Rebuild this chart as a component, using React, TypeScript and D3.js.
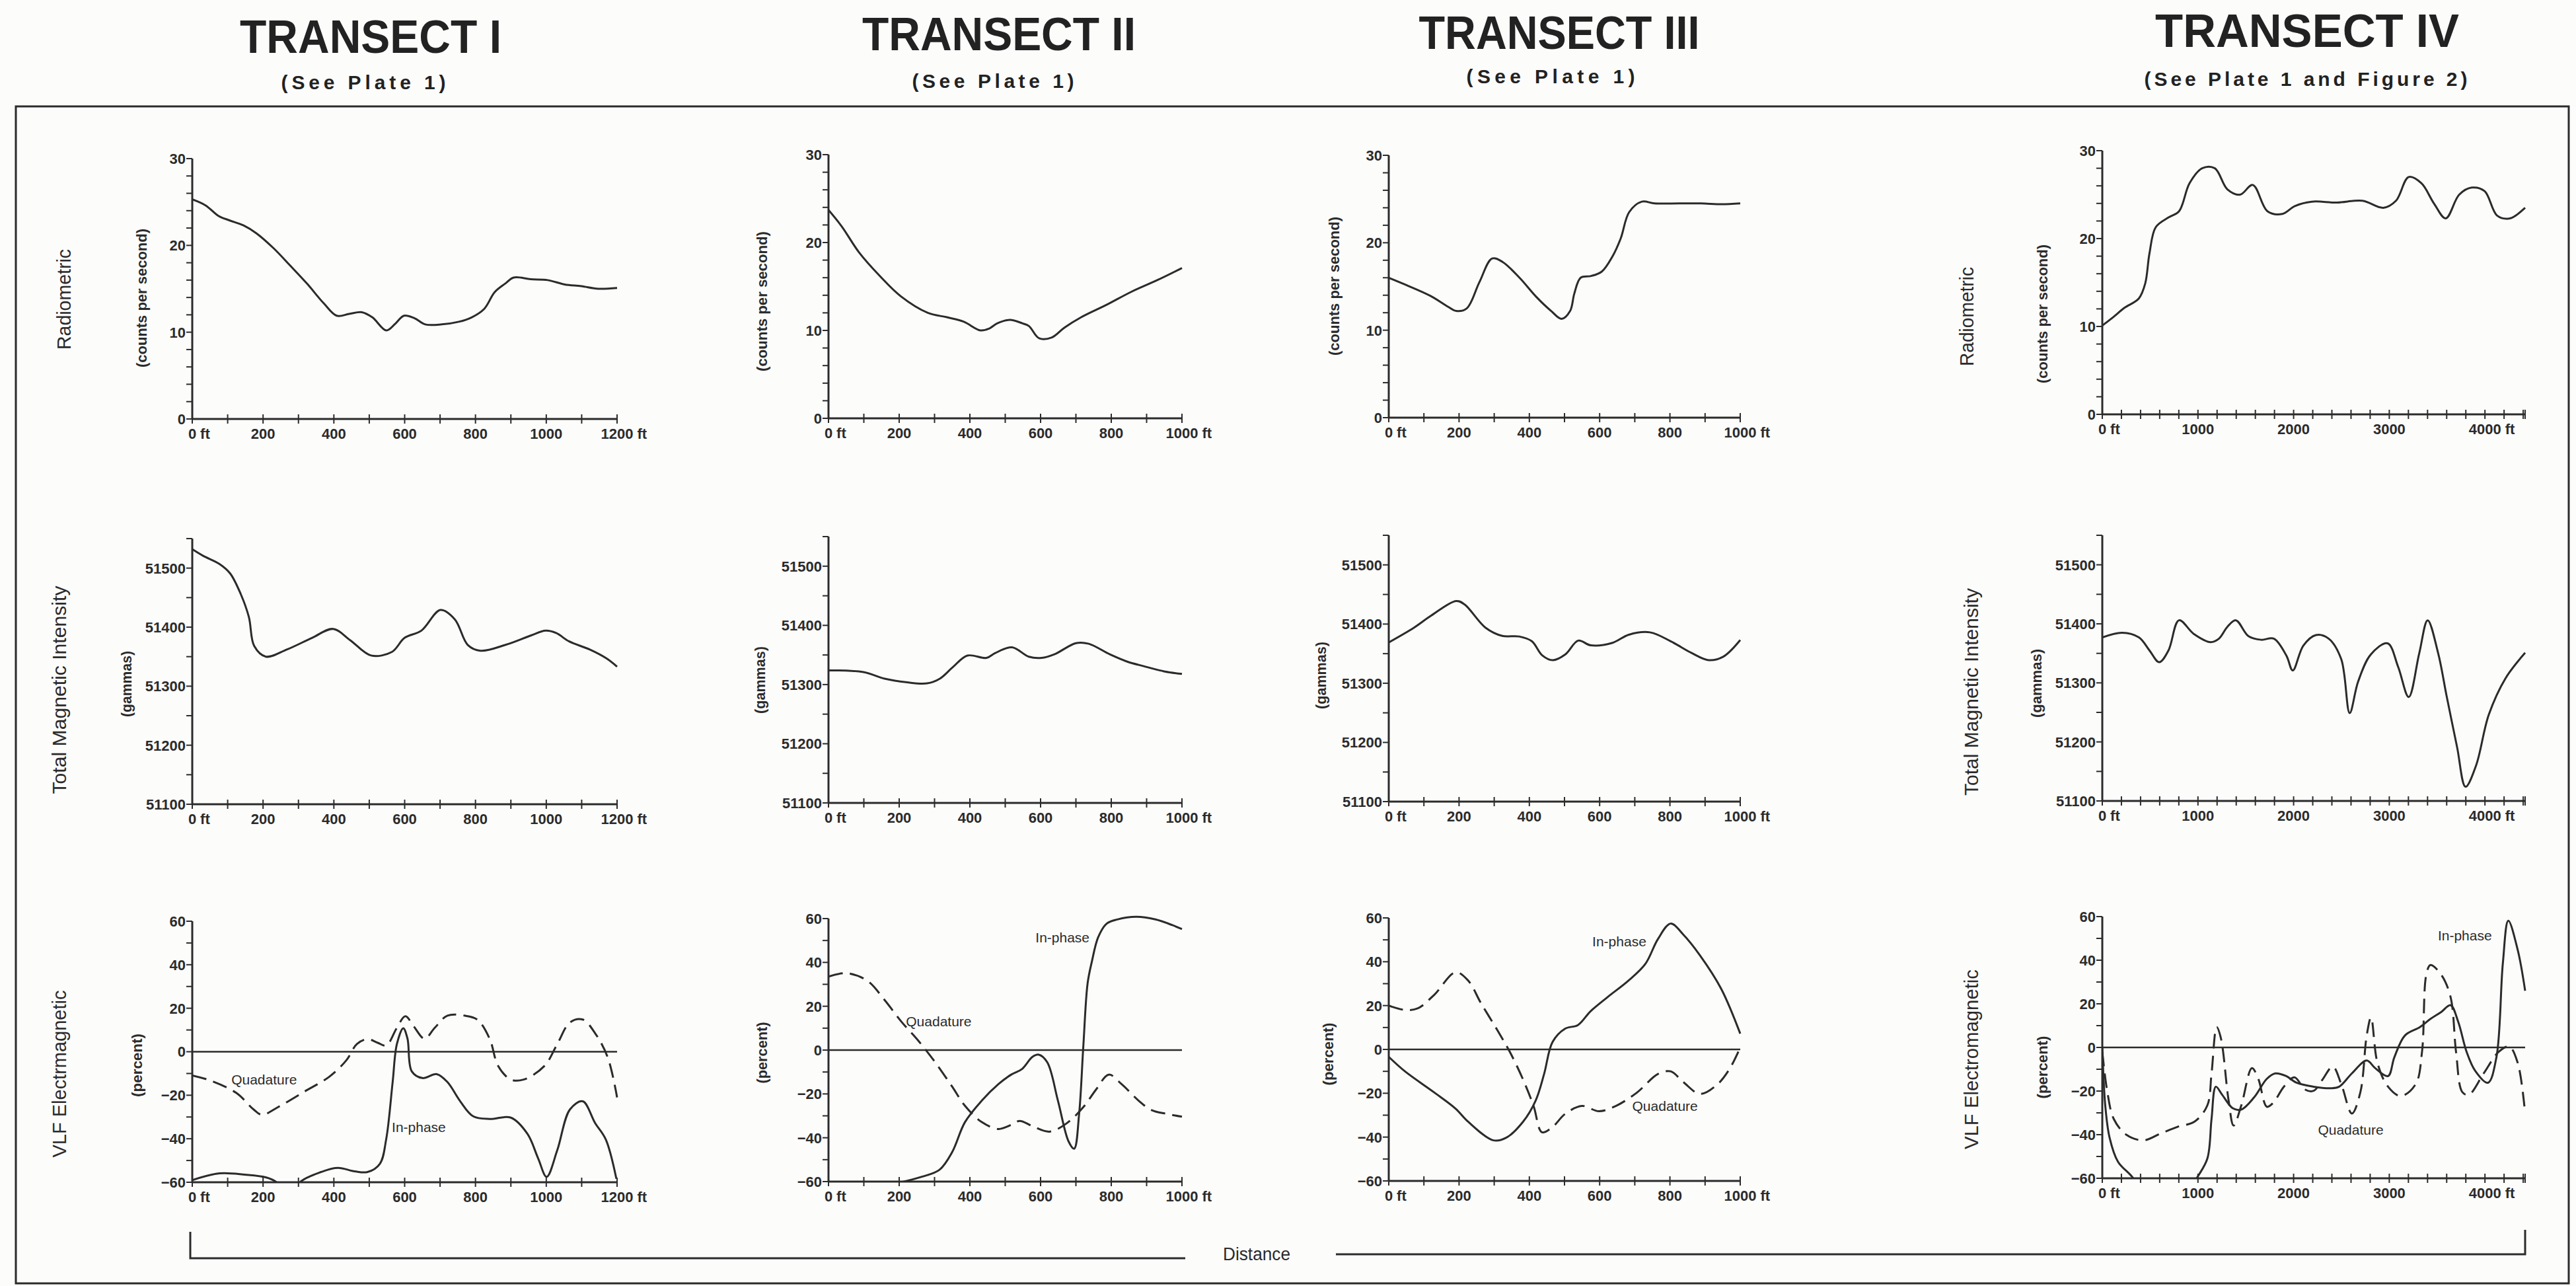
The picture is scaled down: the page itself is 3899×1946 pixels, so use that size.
import React from "react";
import * as d3 from "d3";

type Pt = [number, number];

// ---- titles ----
const titles = ["TRANSECT I", "TRANSECT II", "TRANSECT III", "TRANSECT IV"];
const subtitles = ["(See Plate 1)", "(See Plate 1)", "(See Plate 1)", "(See Plate 1 and Figure 2)"];

// ---- tick values ----
const xMajor1200 = [0, 200, 400, 600, 800, 1000, 1200];
const xMajor1000 = [0, 200, 400, 600, 800, 1000];
const xMajor4000 = [0, 1000, 2000, 3000, 4000];
const yMajorRad = [0, 10, 20, 30];
const yMajorMag = [51100, 51200, 51300, 51400, 51500];
const yMajorVlf = [-60, -40, -20, 0, 20, 40, 60];

// ---- radiometric (counts per second) ----
const radiometricI: Pt[] = [[0,25.3],[38,24.6],[74,23.4],[104,22.9],[145,22.3],[181,21.4],[229,19.7],[276,17.7],[324,15.6],[372,13.3],[408,11.9],[443,12.1],[479,12.3],[509,11.7],[548,10.2],[574,11.0],[598,11.9],[628,11.6],[658,10.9],[705,10.9],[753,11.2],[789,11.7],[825,12.7],[854,14.6],[884,15.6],[908,16.3],[956,16.1],[1004,16.0],[1052,15.5],[1099,15.3],[1147,15.0],[1200,15.1]];
const radiometricII: Pt[] = [[0,23.7],[38,21.8],[86,18.9],[145,16.2],[204,13.9],[281,12.0],[335,11.5],[382,11.0],[430,10.0],[454,10.2],[477,10.8],[513,11.2],[549,10.8],[567,10.5],[596,9.1],[632,9.2],[667,10.3],[715,11.5],[786,12.9],[857,14.4],[929,15.7],[1000,17.1]];
const radiometricIII: Pt[] = [[0,16.0],[48,15.2],[120,13.9],[168,12.7],[192,12.2],[222,12.5],[258,15.5],[294,18.2],[324,17.8],[372,16.0],[420,13.8],[462,12.2],[492,11.3],[516,12.2],[528,14.2],[546,16.0],[576,16.2],[606,16.7],[636,18.4],[660,20.5],[684,23.5],[720,24.7],[756,24.5],[828,24.5],[888,24.5],[948,24.4],[1000,24.5]];
const radiometricIV: Pt[] = [[0,10.1],[119,11.1],[229,12.1],[383,13.2],[449,14.9],[493,18.3],[559,21.3],[692,22.4],[802,23.1],[912,26.3],[1044,28.0],[1176,28.0],[1308,25.6],[1441,25.0],[1573,26.1],[1727,23.1],[1881,22.8],[2013,23.7],[2189,24.2],[2454,24.1],[2718,24.3],[2938,23.5],[3070,24.3],[3203,27.0],[3335,26.3],[3467,24.0],[3590,22.3],[3731,25.0],[3863,25.8],[3996,25.4],[4128,22.6],[4260,22.3],[4420,23.5]];

// ---- total magnetic intensity (gammas) ----
const magneticI: Pt[] = [[0,51532],[30,51521],[77,51507],[107,51491],[137,51456],[160,51417],[175,51368],[208,51350],[267,51362],[339,51382],[398,51397],[446,51378],[505,51352],[564,51358],[600,51382],[647,51394],[701,51429],[742,51413],[778,51370],[814,51360],[885,51370],[957,51386],[998,51394],[1028,51390],[1064,51376],[1123,51362],[1170,51347],[1200,51333]];
const magneticII: Pt[] = [[0,51324],[99,51321],[159,51310],[219,51304],[279,51302],[315,51310],[351,51329],[393,51349],[447,51345],[471,51353],[519,51363],[567,51347],[603,51345],[639,51351],[700,51370],[736,51369],[796,51351],[844,51339],[892,51331],[952,51322],[1000,51318]];
const magneticIII: Pt[] = [[0,51369],[72,51394],[120,51414],[192,51439],[216,51433],[275,51394],[323,51380],[371,51379],[407,51371],[437,51347],[467,51339],[503,51349],[539,51372],[575,51364],[635,51368],[683,51382],[743,51386],[802,51371],[862,51351],[910,51339],[952,51345],[1000,51373]];
const magneticIV: Pt[] = [[0,51377],[207,51385],[383,51377],[493,51355],[595,51335],[692,51355],[802,51406],[956,51383],[1132,51369],[1220,51375],[1308,51395],[1396,51406],[1529,51379],[1661,51373],[1793,51375],[1925,51346],[1991,51321],[2101,51363],[2233,51381],[2366,51375],[2498,51340],[2586,51249],[2674,51302],[2806,51348],[2982,51367],[3093,51327],[3203,51276],[3313,51350],[3401,51406],[3511,51350],[3599,51278],[3709,51191],[3797,51124],[3907,51160],[4040,51246],[4216,51308],[4420,51351]];

// ---- VLF electromagnetic (percent) ----
const inPhaseI: Pt[] = [[0,-59],[77,-55.9],[149,-56.5],[209,-57.8],[238,-60],[262,-66],[284,-66],[304,-60],[364,-55.3],[411,-53.4],[459,-55],[495,-55.3],[530,-51.5],[548,-40],[566,-14],[578,3.5],[596,10.8],[608,6],[620,-9],[650,-12.1],[691,-10.3],[721,-14],[757,-22.8],[793,-29.6],[840,-30.9],[900,-30.3],[947,-37.8],[977,-49],[1001,-57.5],[1031,-45.3],[1067,-26.5],[1103,-22.8],[1138,-32.8],[1168,-40.3],[1198,-58.4]];
const quadratureI: Pt[] = [[0,-10.9],[54,-13.4],[125,-19],[173,-26.5],[197,-29],[244,-25.3],[316,-18.4],[387,-11.5],[435,-4],[465,3.5],[495,5.8],[524,4.1],[548,2.9],[578,11],[602,16.3],[626,11.6],[656,6],[685,11],[721,16.6],[769,16.6],[805,14.8],[840,6],[864,-6.5],[900,-12.8],[936,-12.8],[995,-6.5],[1031,3.5],[1067,13.5],[1103,14.8],[1138,8.5],[1174,-2.8],[1200,-21]];
const inPhaseII: Pt[] = [[200,-60.5],[266,-57.7],[314,-54.6],[350,-46.5],[386,-32.9],[434,-23],[481,-15.5],[517,-11.2],[547,-8.7],[577,-3.1],[595,-2.1],[619,-5.6],[649,-23],[679,-41.6],[695,-45],[709,-29.2],[721,1.9],[733,30.4],[745,40.3],[763,51.5],[787,57.7],[817,59.6],[871,60.8],[925,59.6],[973,57],[1000,55.2]];
const quadratureII: Pt[] = [[0,33.5],[50,35.1],[110,31.6],[158,23],[206,13],[254,4.3],[302,-5.6],[350,-16.7],[386,-25.4],[434,-32.9],[481,-36],[517,-34.1],[541,-32.3],[577,-34.7],[625,-37.2],[673,-33.5],[721,-26],[757,-18],[793,-11.2],[829,-15.5],[877,-23],[913,-27.3],[960,-29.2],[1000,-30.4]];
const inPhaseIII: Pt[] = [[0,-3.4],[46,-10],[130,-19.7],[190,-27],[226,-33],[298,-41.5],[334,-40.3],[382,-33],[418,-23.3],[442,-11.2],[466,3.4],[502,9.5],[538,11.1],[574,17.4],[622,23.8],[682,31.4],[730,39],[766,50.4],[802,57.4],[838,52.4],[886,42.8],[946,27.6],[1000,7.2]];
const quadratureIII: Pt[] = [[0,20],[46,18],[82,18.7],[130,25],[190,35.2],[226,31.4],[262,21.2],[310,8.5],[346,-1.6],[382,-13.7],[412,-25.8],[436,-37.8],[466,-35.4],[502,-29.4],[550,-25.8],[598,-28.2],[646,-25.8],[706,-19.7],[766,-11.2],[802,-10],[838,-14.9],[886,-20.3],[934,-16.1],[970,-8.8],[1000,0.9]];
const inPhaseIV: Pt[] = [[0,0],[31,-26.6],[76,-41.3],[164,-52.4],[320,-59.8],[420,-68],[880,-68],[987,-60],[1098,-51],[1142,-32.8],[1187,-18],[1253,-21.7],[1364,-27.9],[1453,-28.5],[1587,-22.9],[1720,-14.4],[1809,-11.9],[1920,-13.1],[2031,-16.2],[2209,-18],[2387,-18.7],[2476,-18],[2609,-11.9],[2764,-6],[2853,-9.5],[2987,-13.1],[3053,-4.5],[3164,5.5],[3320,9.3],[3431,13.1],[3542,16.2],[3640,19.4],[3720,11.8],[3809,-2.1],[3898,-10.7],[4031,-16.2],[4120,-4.5],[4187,38.5],[4244,58.1],[4342,44.8],[4420,26]];
const quadratureIV: Pt[] = [[0,-2],[53,-20.5],[120,-32.8],[253,-40.1],[431,-42.6],[609,-39.5],[787,-36.4],[964,-34],[1098,-26.6],[1142,-11.9],[1196,9.3],[1240,4.2],[1320,-24.2],[1373,-35.8],[1453,-26.6],[1564,-9.5],[1631,-14.4],[1720,-27.2],[1787,-25.4],[1898,-18],[2009,-13.7],[2120,-19.3],[2209,-19.9],[2298,-15],[2409,-8.8],[2498,-16.8],[2609,-30.3],[2698,-20.5],[2764,5.5],[2809,13.7],[2876,-7],[2987,-18],[3120,-22.3],[3276,-16.8],[3342,-2.1],[3387,33.4],[3431,37.8],[3542,33.4],[3640,23.2],[3698,-2.1],[3764,-20.5],[3831,-21.7],[3987,-11.9],[4142,-2.1],[4253,0.4],[4342,-7],[4420,-30.3]];

const INK = "#2b2b2b";
const SANS = "'Liberation Sans', Arial, Helvetica, sans-serif";

type Box = { x0: number; x1: number; y0: number; y1: number };
type Series = { data: Pt[]; dashed?: boolean };
type Note = { text: string; at: Pt };

function range(a: number, b: number, step: number) {
  return d3.range(a, b + step / 2, step);
}

function Panel(props: {
  id: string;
  box: Box;
  xMax: number;
  xMajor: number[];
  xMinorStep: number;
  yDomain: [number, number];
  yMajor: number[];
  yMinorStep: number;
  series: Series[];
  zero?: boolean;
  notes?: Note[];
}) {
  const { id, box, xMax, xMajor, xMinorStep, yDomain, yMajor, yMinorStep, series, zero, notes } = props;
  const x = d3.scaleLinear().domain([0, xMax]).range([box.x0, box.x1]);
  const y = d3.scaleLinear().domain(yDomain).range([box.y1, box.y0]);
  const line = d3
    .line<Pt>()
    .x((d) => x(d[0]))
    .y((d) => y(d[1]))
    .curve(d3.curveCatmullRom.alpha(0.5));
  const xMinor = range(0, xMax, xMinorStep).filter((v) => v <= xMax);
  const yMinor = range(yDomain[0], yDomain[1], yMinorStep);
  const fs = 22;
  const lastMajor = xMajor[xMajor.length - 1];
  return (
    <g>
      <clipPath id={id}>
        <rect x={box.x0} y={box.y0 - 30} width={box.x1 - box.x0 + 12} height={box.y1 - box.y0 + 30} />
      </clipPath>
      {/* y axis */}
      <line x1={box.x0} x2={box.x0} y1={box.y0} y2={box.y1} stroke={INK} strokeWidth={3} />
      {yMinor.map((v) => (
        <line key={"ym" + v} x1={box.x0 - 9} x2={box.x0} y1={y(v)} y2={y(v)} stroke={INK} strokeWidth={2} />
      ))}
      {yMajor.map((v) => (
        <text key={"yl" + v} x={box.x0 - 10} y={y(v)} dy="0.36em" textAnchor="end" fontFamily={SANS} fontWeight="bold" fontSize={fs} fill={INK}>
          {v < 0 ? "\u2212" + Math.abs(v) : v}
        </text>
      ))}
      {/* x axis */}
      <line x1={box.x0} x2={box.x1} y1={box.y1} y2={box.y1} stroke={INK} strokeWidth={3} />
      {xMinor.map((v) => (
        <line key={"xm" + v} x1={x(v)} x2={x(v)} y1={box.y1 - 7} y2={box.y1 + 7} stroke={INK} strokeWidth={2} />
      ))}
      <line x1={box.x1} x2={box.x1} y1={box.y1 - 7} y2={box.y1 + 7} stroke={INK} strokeWidth={2} />
      {xMajor.map((v, i) => {
        const s = String(v);
        const half = (s.length * 0.556 * fs) / 2;
        return (
          <g key={"xl" + v}>
            <text x={x(v)} y={box.y1 + 30} textAnchor="middle" fontFamily={SANS} fontWeight="bold" fontSize={fs} fill={INK}>
              {s}
            </text>
            {(i === 0 || v === lastMajor) && (
              <text x={x(v) + half + 6} y={box.y1 + 30} textAnchor="start" fontFamily={SANS} fontWeight="bold" fontSize={fs} fill={INK}>
                ft
              </text>
            )}
          </g>
        );
      })}
      {zero && <line x1={box.x0} x2={box.x1} y1={y(0)} y2={y(0)} stroke={INK} strokeWidth={2.5} />}
      <g clipPath={`url(#${id})`}>
        {series.map((s, i) => (
          <path
            key={i}
            d={line(s.data) || ""}
            fill="none"
            stroke={INK}
            strokeWidth={3}
            strokeDasharray={s.dashed ? "22 11" : undefined}
            strokeLinejoin="round"
          />
        ))}
      </g>
      {(notes || []).map((n) => (
        <text key={n.text} x={x(n.at[0])} y={y(n.at[1])} textAnchor="middle" fontFamily={SANS} fontSize={21} fill={INK}>
          {n.text}
        </text>
      ))}
    </g>
  );
}

function VText(props: { text: string; x: number; y: number; len: number; size: number; bold?: boolean }) {
  const { text, x, y, len, size, bold } = props;
  return (
    <text
      transform={`translate(${x},${y}) rotate(-90)`}
      textAnchor="middle"
      dy="0.35em"
      fontFamily={SANS}
      fontWeight={bold ? "bold" : "normal"}
      fontSize={size}
      fill={INK}
      textLength={len}
      lengthAdjust="spacingAndGlyphs"
    >
      {text}
    </text>
  );
}

// layout (pixel boxes of each plot)
const colX = [
  { x0: 291, x1: 934 },
  { x0: 1254, x1: 1789 },
  { x0: 2102, x1: 2634 },
  { x0: 3182, x1: 3822 },
];
const radY = [
  { y0: 240, y1: 634 },
  { y0: 234, y1: 633 },
  { y0: 235, y1: 632 },
  { y0: 228, y1: 627 },
];
const magY = [
  { y0: 815, y1: 1217 },
  { y0: 812, y1: 1215 },
  { y0: 810, y1: 1213 },
  { y0: 810, y1: 1212 },
];
const vlfY = [
  { y0: 1394, y1: 1789 },
  { y0: 1390, y1: 1788 },
  { y0: 1389, y1: 1787 },
  { y0: 1387, y1: 1783 },
];

const titlePos = [
  { cx: 561, ty: 80, tl: 396, sx: 550, sy: 135, sl: 249 },
  { cx: 1512, ty: 76, tl: 414, sx: 1503, sy: 133, sl: 245 },
  { cx: 2360, ty: 74, tl: 425, sx: 2347, sy: 126, sl: 255 },
  { cx: 3492, ty: 71, tl: 460, sx: 3490, sy: 130, sl: 489 },
];

const rowLabels = [
  { text: "Radiometric", x: 96, y: 453, len: 152, size: 30 },
  { text: "Radiometric", x: 2976, y: 479, len: 150, size: 30 },
  { text: "Total Magnetic Intensity", x: 89, y: 1044, len: 315, size: 30 },
  { text: "Total Magnetic Intensity", x: 2983, y: 1047, len: 314, size: 30 },
  { text: "VLF Electrmagnetic", x: 89, y: 1625, len: 253, size: 30 },
  { text: "VLF Electromagnetic", x: 2983, y: 1603, len: 272, size: 30 },
];
const unitLabels = [
  { text: "(counts per second)", x: 214, y: 451, len: 210, size: 22, bold: true },
  { text: "(counts per second)", x: 1153, y: 456, len: 212, size: 22, bold: true },
  { text: "(counts per second)", x: 2019, y: 433, len: 210, size: 22, bold: true },
  { text: "(counts per second)", x: 3091, y: 475, len: 210, size: 22, bold: true },
  { text: "(gammas)", x: 191, y: 1035, len: 100, size: 22, bold: true },
  { text: "(gammas)", x: 1150, y: 1029, len: 102, size: 22, bold: true },
  { text: "(gammas)", x: 1999, y: 1022, len: 102, size: 22, bold: true },
  { text: "(gammas)", x: 3082, y: 1034, len: 104, size: 22, bold: true },
  { text: "(percent)", x: 207, y: 1612, len: 96, size: 22, bold: true },
  { text: "(percent)", x: 1153, y: 1593, len: 93, size: 22, bold: true },
  { text: "(percent)", x: 2010, y: 1595, len: 95, size: 22, bold: true },
  { text: "(percent)", x: 3091, y: 1615, len: 95, size: 22, bold: true },
];

const xMaxes = [1200, 1000, 1000, 4420];
const xMajors = [xMajor1200, xMajor1000, xMajor1000, xMajor4000];
const xMinorSteps = [100, 100, 100, 200];
const radSeries = [radiometricI, radiometricII, radiometricIII, radiometricIV];
const magSeries = [magneticI, magneticII, magneticIII, magneticIV];
const inPhase = [inPhaseI, inPhaseII, inPhaseIII, inPhaseIV];
const quadrature = [quadratureI, quadratureII, quadratureIII, quadratureIV];
// annotation anchors in data units (ft, percent)
const vlfNotes: Note[][] = [
  [
    { text: "Quadature", at: [203, -15] },
    { text: "In-phase", at: [640, -37] },
  ],
  [
    { text: "In-phase", at: [662, 49] },
    { text: "Quadature", at: [312, 11] },
  ],
  [
    { text: "In-phase", at: [656, 47] },
    { text: "Quadature", at: [786, -28] },
  ],
  [
    { text: "In-phase", at: [3790, 49] },
    { text: "Quadature", at: [2597, -40] },
  ],
];

export default function App() {
  const W = 3899;
  const H = 1946;
  return (
    <svg width={W} height={H} viewBox={`0 0 ${W} ${H}`} style={{ display: "block", position: "absolute", left: 0, top: 0, background: "#fcfcfb" }}>
      <rect x={0} y={0} width={W} height={H} fill="#fcfcfb" />
      {titles.map((t, i) => (
        <g key={t}>
          <text
            x={titlePos[i].cx}
            y={titlePos[i].ty}
            textAnchor="middle"
            fontFamily={SANS}
            fontWeight="bold"
            fontSize={70}
            fill="#222"
            textLength={titlePos[i].tl}
            lengthAdjust="spacingAndGlyphs"
          >
            {t}
          </text>
          <text
            x={titlePos[i].sx}
            y={titlePos[i].sy}
            textAnchor="middle"
            fontFamily={SANS}
            fontWeight="bold"
            fontSize={30}
            fill="#222"
            textLength={titlePos[i].sl}
            lengthAdjust="spacing"
          >
            {subtitles[i]}
          </text>
        </g>
      ))}
      {/* frame */}
      <rect x={24} y={161} width={3864} height={1781} fill="none" stroke={INK} strokeWidth={3} />

      {rowLabels.map((l) => (
        <VText key={l.text + l.x} {...l} />
      ))}
      {unitLabels.map((l) => (
        <VText key={l.text + l.x} {...l} />
      ))}

      {colX.map((c, i) => (
        <g key={"col" + i}>
          <Panel
            id={"rad" + i}
            box={{ ...c, ...radY[i] }}
            xMax={xMaxes[i]}
            xMajor={xMajors[i]}
            xMinorStep={xMinorSteps[i]}
            yDomain={[0, 30]}
            yMajor={yMajorRad}
            yMinorStep={2}
            series={[{ data: radSeries[i] }]}
          />
          <Panel
            id={"mag" + i}
            box={{ ...c, ...magY[i] }}
            xMax={xMaxes[i]}
            xMajor={xMajors[i]}
            xMinorStep={xMinorSteps[i]}
            yDomain={[51100, 51550]}
            yMajor={yMajorMag}
            yMinorStep={50}
            series={[{ data: magSeries[i] }]}
          />
          <Panel
            id={"vlf" + i}
            box={{ ...c, ...vlfY[i] }}
            xMax={xMaxes[i]}
            xMajor={xMajors[i]}
            xMinorStep={xMinorSteps[i]}
            yDomain={[-60, 60]}
            yMajor={yMajorVlf}
            yMinorStep={10}
            series={[{ data: inPhase[i] }, { data: quadrature[i], dashed: true }]}
            zero
            notes={vlfNotes[i]}
          />
        </g>
      ))}

      {/* distance bracket */}
      <polyline points="288,1864 288,1904 1794,1904" fill="none" stroke={INK} strokeWidth={3} />
      <polyline points="2022,1898 3822,1898 3822,1861" fill="none" stroke={INK} strokeWidth={3} />
      <text x={1902} y={1907} textAnchor="middle" fontFamily={SANS} fontSize={27} fill={INK} textLength={102} lengthAdjust="spacingAndGlyphs">
        Distance
      </text>
    </svg>
  );
}
